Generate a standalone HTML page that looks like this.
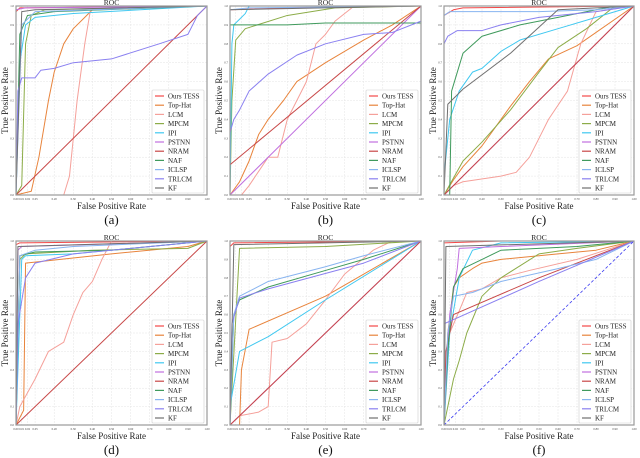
<!DOCTYPE html>
<html><head><meta charset="utf-8">
<style>
html,body{margin:0;padding:0;background:#fff;}
svg{display:block;font-family:"Liberation Serif","DejaVu Serif",serif;}
</style></head>
<body>
<svg id="fig" width="640" height="458" viewBox="0 0 640 458" xmlns="http://www.w3.org/2000/svg"></svg>
<script>
const seriesNames = ["Ours TESS","Top-Hat","LCM","MPCM","IPI","PSTNN","NRAM","NAF","ICLSP","TRLCM","KF"];
const seriesColors = ["#f24848","#e8843c","#f5a09a","#8cac48","#40c8f0","#c070e0","#c84848","#3f9a5c","#88b4f0","#8a80f0","#707070"];
const panelLabels = ["(a)","(b)","(c)","(d)","(e)","(f)"];
const yTickLabels = ["0.0","0.1","0.2","0.3","0.4","0.5","0.6","0.7","0.8","0.9","1.0"];
const xTickLabels = ["0.00","0.01","0.02","0.05","0.20","0.30","0.40","0.50","0.60","0.70","0.80","0.90","1.00"];
const xTickPos = [0,0.03,0.06,0.1,0.2,0.3,0.4,0.5,0.6,0.7,0.8,0.9,1];

const panelA = [
 [[0,0],[0,0.97],[0.02,0.99],[1,1]],
 [[0,0],[0.08,0.02],[0.12,0.2],[0.17,0.5],[0.2,0.65],[0.25,0.8],[0.3,0.88],[0.35,0.93],[0.4,0.98],[1,1]],
 [[0,0],[0.25,0],[0.28,0.1],[0.32,0.5],[0.36,0.8],[0.39,0.98],[1,1]],
 [[0,0],[0.03,0.05],[0.05,0.8],[0.08,0.95],[0.15,0.98],[1,1]],
 [[0,0],[0.02,0.7],[0.05,0.9],[0.1,0.94],[0.3,0.96],[1,1]],
 [[0,0],[0,0.98],[0.05,0.99],[1,1]],
 [[0,0],[1,1]],
 [[0,0],[0.02,0.85],[0.06,0.95],[0.2,0.97],[1,1]],
 [[0,0],[0.03,0.9],[0.1,0.97],[1,1]],
 [[0,0],[0.01,0.55],[0.03,0.62],[0.1,0.62],[0.13,0.66],[0.2,0.67],[0.3,0.7],[0.5,0.72],[0.75,0.8],[0.9,0.85],[0.95,0.95],[1,1]],
 [[0,0],[0.03,0.97],[0.1,0.98],[1,1]]
];
const panelB = [
 [[0,0],[0,0.98],[0.3,0.99],[1,1]],
 [[0,0],[0.05,0.07],[0.1,0.18],[0.15,0.32],[0.2,0.4],[0.28,0.5],[0.35,0.6],[0.5,0.7],[0.7,0.82],[0.85,0.9],[1,1]],
 [[0,0],[0.06,0],[0.1,0.05],[0.2,0.2],[0.25,0.2],[0.3,0.4],[0.4,0.6],[0.45,0.8],[0.5,0.85],[0.55,0.92],[0.65,1],[1,1]],
 [[0,0],[0.01,0.5],[0.03,0.82],[0.08,0.88],[0.3,0.95],[0.55,0.99],[1,1]],
 [[0,0],[0.01,0.8],[0.02,0.9],[0.05,0.93],[0.08,0.96],[0.1,1],[1,1]],
 [[0,0],[1,1]],
 [[0,0.16],[1,1]],
 [[0,0],[0,0.9],[0.3,0.9],[0.5,0.91],[1,0.91],[1,1]],
 [[0,0],[0,0.98],[0.1,0.99],[1,1]],
 [[0,0],[0,0.33],[0.02,0.4],[0.05,0.45],[0.1,0.55],[0.2,0.64],[0.35,0.74],[0.5,0.8],[0.7,0.85],[0.85,0.86],[1,0.92],[1,1]],
 [[0,0],[0,0.98],[1,1]]
];
const panelC = [
 [[0,0],[0,0.95],[0.05,0.98],[0.1,0.99],[1,1]],
 [[0,0],[0.05,0.08],[0.1,0.15],[0.2,0.26],[0.35,0.47],[0.45,0.6],[0.55,0.72],[0.7,0.79],[1,1]],
 [[0,0],[0.05,0.05],[0.1,0.07],[0.3,0.1],[0.38,0.12],[0.45,0.2],[0.5,0.3],[0.55,0.4],[0.65,0.55],[0.72,0.8],[0.8,0.97],[1,1]],
 [[0,0],[0.1,0.18],[0.2,0.28],[0.35,0.45],[0.5,0.65],[0.6,0.78],[0.75,0.88],[0.9,1],[1,1]],
 [[0,0],[0,0.1],[0.03,0.4],[0.08,0.55],[0.15,0.65],[0.2,0.67],[0.3,0.76],[0.4,0.82],[0.6,0.88],[0.8,0.94],[1,1]],
 [[0,0],[1,1]],
 [[0,0],[1,1]],
 [[0,0],[0.03,0],[0.04,0.55],[0.1,0.75],[0.2,0.84],[0.4,0.9],[0.6,0.94],[0.9,1],[1,1]],
 [[0,0],[0,0.95],[0.03,0.97],[0.5,0.97],[0.8,0.98],[1,1]],
 [[0,0],[0,0.8],[0.02,0.84],[0.07,0.87],[0.2,0.87],[0.3,0.9],[0.5,0.94],[0.8,0.97],[1,1]],
 [[0,0],[0.02,0.48],[0.1,0.56],[0.35,0.75],[0.6,0.98],[1,1]]
];
const panelD = [
 [[0,0],[0,0.98],[0.02,0.99],[1,1]],
 [[0,0],[0.04,0.08],[0.05,0.88],[0.5,0.93],[0.9,0.97],[1,1]],
 [[0,0],[0.02,0.1],[0.1,0.25],[0.17,0.4],[0.25,0.45],[0.3,0.6],[0.35,0.72],[0.4,0.78],[0.45,0.9],[0.5,1],[1,1]],
 [[0,0],[0.02,0.9],[0.05,0.93],[0.4,0.95],[0.9,0.96],[1,1]],
 [[0,0],[0.03,0.9],[0.05,0.92],[0.3,0.93],[1,1]],
 [[0,0],[0.01,0.95],[0.03,0.97],[1,1]],
 [[0,0],[1,1]],
 [[0,0],[0.02,0.92],[0.1,0.94],[0.5,0.95],[1,1]],
 [[0,0],[0.02,0.92],[0.1,0.95],[0.3,0.97],[1,1]],
 [[0,0],[0.01,0.55],[0.05,0.8],[0.1,0.88],[0.3,0.93],[1,1]],
 [[0,0],[0.01,0.97],[1,1]]
];
const panelE = [
 [[0,0],[0,0.97],[0.02,0.99],[1,1]],
 [[0,0],[0.05,0],[0.06,0.3],[0.1,0.52],[0.5,0.7],[1,1]],
 [[0,0],[0.05,0.05],[0.15,0.07],[0.2,0.1],[0.22,0.45],[0.3,0.47],[0.4,0.55],[0.5,0.68],[0.6,0.82],[0.75,0.95],[0.85,1],[1,1]],
 [[0,0],[0.05,0.96],[0.5,0.97],[1,1]],
 [[0,0],[0,0.1],[0.05,0.4],[0.2,0.48],[0.5,0.68],[1,1]],
 [[0,0],[1,1]],
 [[0,0],[1,1]],
 [[0,0],[0.02,0.6],[0.05,0.68],[0.2,0.75],[0.5,0.84],[0.7,0.9],[1,1]],
 [[0,0],[0.02,0.6],[0.05,0.7],[0.2,0.78],[0.5,0.86],[0.7,0.92],[1,1]],
 [[0,0],[0.01,0.55],[0.05,0.69],[0.2,0.74],[0.45,0.81],[0.7,0.88],[1,1]],
 [[0,0],[0.02,0.98],[1,1]]
];
const panelF = [
 [[0,0],[0,0.99],[0.3,1],[1,1]],
 [[0,0],[0.02,0.5],[0.05,0.75],[0.08,0.8],[0.15,0.85],[0.2,0.88],[0.3,0.9],[0.6,0.93],[0.8,0.95],[1,1]],
 [[0,0],[0.01,0.2],[0.03,0.5],[0.08,0.62],[0.12,0.72],[0.2,0.74],[0.3,0.8],[0.45,0.84],[0.7,0.9],[0.85,0.95],[1,1]],
 [[0,0],[0.02,0.1],[0.05,0.25],[0.08,0.35],[0.12,0.5],[0.2,0.7],[0.3,0.8],[0.5,0.93],[0.7,0.96],[1,1]],
 [[0,0],[0.03,0.5],[0.08,0.8],[0.15,0.95],[0.3,0.99],[1,1]],
 [[0,0],[0.03,0.6],[0.07,0.85],[0.08,0.96],[0.3,0.97],[1,1]],
 [[0,0],[0.01,0.4],[0.05,0.6],[0.5,0.8],[1,1]],
 [[0,0],[0.02,0.4],[0.05,0.75],[0.1,0.85],[0.2,0.9],[0.3,0.95],[0.7,0.97],[1,1]],
 [[0,0],[0.02,0.5],[0.05,0.7],[0.15,0.72],[0.3,0.78],[0.6,0.85],[0.8,0.9],[1,1]],
 [[0,0],[0,0.55],[0.5,0.78],[1,1]],
 [[0,0],[0.01,0.97],[1,1]]
];
const chanceF = [[0,0],[1,1]];
const panels = [panelA,panelB,panelC,panelD,panelE,panelF];

const NS="http://www.w3.org/2000/svg";
const svg=document.getElementById('fig');
function mk(tag,attrs,parent){const e=document.createElementNS(NS,tag);for(const k in attrs)e.setAttribute(k,attrs[k]);(parent||svg).appendChild(e);return e;}

const colLeft=[16,230,444], colRight=[207,421,634];
const rowTop=[6,241], rowBottom=[195,425];

panels.forEach((data,pi)=>{
  const c=pi%3, r=Math.floor(pi/3);
  const L=colLeft[c],R=colRight[c],T=rowTop[r],B=rowBottom[r];
  const xs=v=>L+v*(R-L), ys=v=>B-v*(B-T);
  const g=mk('g',{});
  
  
  // grid
  yTickLabels.forEach((t,i)=>{
    const v=i/10;
    const gl=mk('line',{x1:L,x2:R,y1:ys(v),y2:ys(v),stroke:'#e4e4e4','stroke-width':0.5,'stroke-dasharray':'2,1'},g);
    
    
    const tx=mk('text',{x:L-2,y:ys(v)+1,'font-size':3,'text-anchor':'end',fill:'#444'},g);
    
    
    tx.textContent=t;
  });
  xTickLabels.forEach((t,i)=>{
    const v=xTickPos[i];
    const gl=mk('line',{x1:xs(v),x2:xs(v),y1:T,y2:B,stroke:'#e4e4e4','stroke-width':0.5,'stroke-dasharray':'2,1'},g);
    
    
    const tx=mk('text',{x:xs(v),y:B+5,'font-size':3,'text-anchor':'middle',fill:'#444'},g);
    
    
    tx.textContent=t;
  });
  // series
  data.forEach((pts,si)=>{
    const p=mk('polyline',{points:pts.map(q=>xs(q[0])+','+ys(q[1])).join(' '),fill:'none',stroke:seriesColors[si],'stroke-width':1,'stroke-linejoin':'round'},g);
    
    
  });
  if(pi===5){
    const d=mk('polyline',{points:chanceF.map(q=>xs(q[0])+','+ys(q[1])).join(' '),fill:'none',stroke:'#3a3af0','stroke-width':0.8,'stroke-dasharray':'3,2'},g);
    
    
  }
  // frame
  const fr=mk('rect',{x:L,y:T,width:R-L,height:B-T,fill:'none',stroke:'#9a9a9a','stroke-width':1.2},g);
  
  
  // title
  const ti=mk('text',{x:(L+R)/2,y:T-1,'font-size':7.5,'text-anchor':'middle',fill:'#222'},g);
  
  
  ti.textContent='ROC';
  const xl=mk('text',{x:(L+R)/2,y:B+14,'font-size':9,'text-anchor':'middle',fill:'#222'},g);
  
  
  xl.textContent='False Positive Rate';
  const yl=mk('text',{x:0,y:0,'font-size':9,'text-anchor':'middle',fill:'#222',transform:'translate('+(L-8)+','+((T+B)/2)+') rotate(-90)'},g);
  
  
  yl.textContent='True Positive Rate';
  const pl=mk('text',{x:(L+R)/2,y:B+29,'font-size':13,'text-anchor':'middle',fill:'#111'},g);
  
  
  pl.textContent=panelLabels[pi];
  // legend
  const lw=52, lh=103, lx=R-lw-3, ly=B-lh-2;
  const lg=mk('g',{},g);
  
  
  mk('rect',{x:lx,y:ly,width:lw,height:lh,fill:'#fff',stroke:'#cfcfcf','stroke-width':0.6,rx:1},lg);
  seriesNames.forEach((n,si)=>{
    const ey=ly+6+si*9.2;
    const e=mk('g',{},lg);
    
    
    mk('line',{x1:lx+3,x2:lx+12,y1:ey,y2:ey,stroke:seriesColors[si],'stroke-width':1.2},e);
    const t=mk('text',{x:lx+16,y:ey+2.5,'font-size':7,fill:'#222'},e);
    t.textContent=n;
  });
});
</script>
</body></html>
